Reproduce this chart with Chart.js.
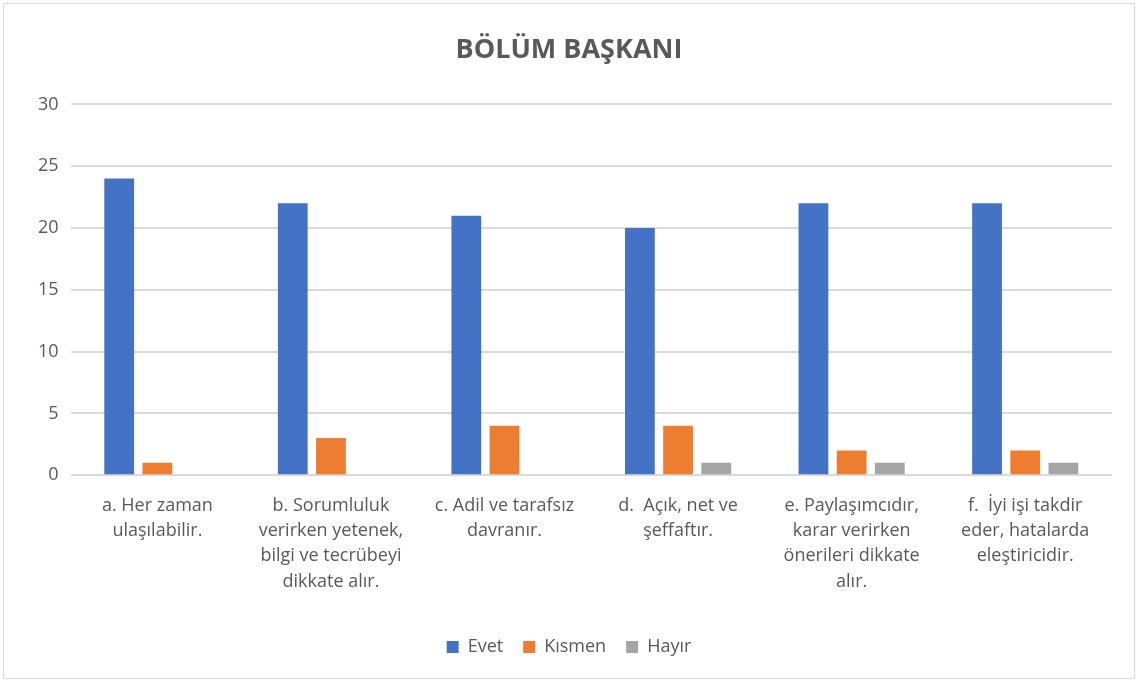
<!DOCTYPE html>
<html lang="tr">
<head>
    <meta charset="UTF-8">
    <title>Bölüm Başkanı</title>
    <script src="https://cdn.jsdelivr.net/npm/chart.js"></script>
    <style>
        body {
            margin: 0;
            background: #ffffff;
            font-family: "Open Sans", Arial, sans-serif;
        }
        .frame {
            position: absolute;
            left: 3px;
            top: 3px;
            width: 1130px;
            height: 674px;
            border: 1px solid #d9d9d9;
            background: #ffffff;
        }
    </style>
</head>
<body>
    <div class="frame">
        <canvas id="chart" width="1130" height="674"></canvas>
    </div>

    <script>
        // data
        const categories = [
            ['a. Her zaman', 'ulaşılabilir.'],
            ['b. Sorumluluk', 'verirken yetenek,', 'bilgi ve tecrübeyi', 'dikkate alır.'],
            ['c. Adil ve tarafsız', 'davranır.'],
            ['d.  Açık, net ve', 'şeffaftır.'],
            ['e. Paylaşımcıdır,', 'karar verirken', 'önerileri dikkate', 'alır.'],
            ['f.  İyi işi takdir', 'eder, hatalarda', 'eleştiricidir.']
        ];
        const evet = [24, 22, 21, 20, 22, 22];
        const kismen = [1, 3, 4, 4, 2, 2];
        const hayir = [0, 0, 0, 1, 1, 1];
        const seriesNames = ['Evet', 'Kısmen', 'Hayır'];

        const textColor = '#595959';
        const gridColor = '#d9d9d9';

        let ctx = document.getElementById('chart').getContext('2d');
        let chart = new Chart(ctx, {
            type: 'bar',
            data: {
                labels: categories,
                datasets: [
                    { label: seriesNames[0], data: evet, backgroundColor: '#4472c4' },
                    { label: seriesNames[1], data: kismen, backgroundColor: '#ed7d31' },
                    { label: seriesNames[2], data: hayir, backgroundColor: '#a5a5a5' }
                ]
            },
            options: {
                responsive: false,
                animation: false,
                categoryPercentage: 0.66,
                barPercentage: 0.78,
                layout: { padding: { left: 22, right: 22, top: 24, bottom: 12 } },
                plugins: {
                    title: {
                        display: true,
                        text: 'BÖLÜM BAŞKANI',
                        color: textColor,
                        font: { family: 'Open Sans', size: 27, weight: 'bold' },
                        padding: { top: 6, bottom: 38 }
                    },
                    legend: {
                        position: 'bottom',
                        labels: {
                            color: textColor,
                            font: { family: 'Open Sans', size: 18 },
                            boxWidth: 12,
                            boxHeight: 12,
                            padding: 20
                        }
                    },
                    tooltip: { enabled: false }
                },
                scales: {
                    x: {
                        grid: { display: false },
                        border: { display: false },
                        ticks: {
                            color: textColor,
                            font: { family: 'Open Sans', size: 18, lineHeight: 1.4 },
                            maxRotation: 0,
                            autoSkip: false,
                            padding: 10
                        },
                        // leave room between the labels and the legend
                        afterFit: function (scale) {
                            scale.height += 14;
                        }
                    },
                    y: {
                        min: 0,
                        max: 30,
                        ticks: {
                            stepSize: 5,
                            color: textColor,
                            font: { family: 'Open Sans', size: 18 },
                            padding: 12
                        },
                        grid: { color: gridColor, lineWidth: 2, drawTicks: false },
                        border: { display: false }
                    }
                }
            }
        });
    </script>
</body>
</html>
